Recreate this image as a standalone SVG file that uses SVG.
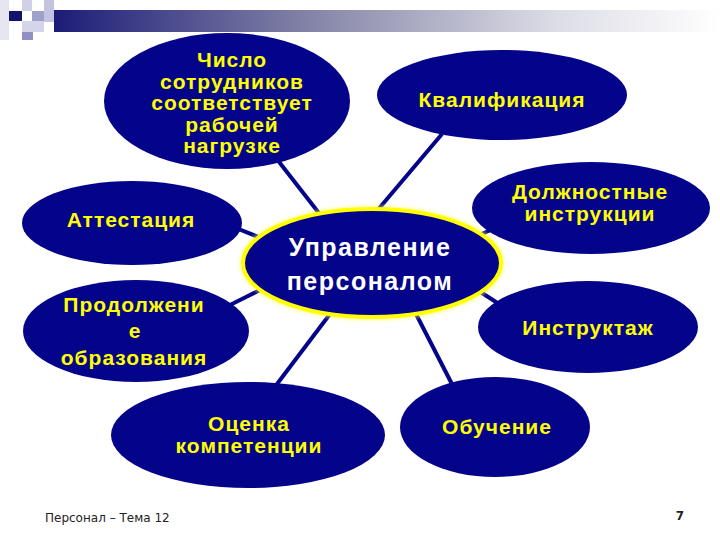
<svg xmlns="http://www.w3.org/2000/svg" width="720" height="540" viewBox="0 0 720 540">
  <defs>
    <linearGradient id="bar" x1="0" y1="0" x2="1" y2="0">
      <stop offset="0" stop-color="#1c1c78"/>
      <stop offset="0.4" stop-color="#8888aa"/>
      <stop offset="0.75" stop-color="#dcdce6"/>
      <stop offset="1" stop-color="#ffffff"/>
    </linearGradient>
    <filter id="glow" x="-20%" y="-20%" width="140%" height="140%">
      <feGaussianBlur stdDeviation="1.5"/>
    </filter>
  </defs>
  <style>
    .node { fill: #04048a; }
    .lbl { font-family: "Liberation Sans", Arial, sans-serif; font-weight: bold; font-size: 21px; fill: #ffff00; text-anchor: middle; letter-spacing: 1px; }
    .main { font-family: "Liberation Sans", Arial, sans-serif; font-weight: bold; font-size: 25px; fill: #ffffff; text-anchor: middle; letter-spacing: 1.5px; }
    .conn line { stroke: #04048a; stroke-width: 4; }
    .foot { font-family: "DejaVu Sans", Tahoma, sans-serif; font-size: 12px; fill: #222222; }
  </style>
  <rect width="720" height="540" fill="#ffffff"/>

  <!-- header decoration -->
  <g id="header">
    <rect x="0" y="0" width="9" height="40" fill="#e6e6f2"/>
    <rect x="22" y="0" width="10" height="11" fill="#d0d0e8"/>
    <rect x="44" y="0" width="10" height="22" fill="#c4c4e0"/>
    <rect x="9" y="11" width="13" height="10" fill="#14146e"/>
    <rect x="32" y="11" width="12" height="10" fill="#a0a0cc"/>
    <rect x="22" y="21" width="22" height="11" fill="#d4d4ea"/>
    <rect x="22" y="32" width="11" height="8" fill="#9090c4"/>
    <rect x="54" y="10" width="666" height="22" fill="url(#bar)"/>
  </g>

  <!-- connectors -->
  <g id="connectors" class="conn">
    <line x1="276" y1="158" x2="322" y2="217"/>
    <line x1="442" y1="134" x2="376" y2="212"/>
    <line x1="236" y1="228" x2="266" y2="240"/>
    <line x1="228" y1="306" x2="264" y2="288"/>
    <line x1="472" y1="238" x2="498" y2="227"/>
    <line x1="476" y1="289" x2="502" y2="306"/>
    <line x1="330" y1="314" x2="274" y2="388"/>
    <line x1="416" y1="314" x2="455" y2="390"/>
  </g>

  <g id="n-chislo">
    <ellipse class="node" cx="227" cy="101" rx="123" ry="68"/>
    <text class="lbl" x="232" y="67">Число</text>
    <text class="lbl" x="232" y="88.5">сотрудников</text>
    <text class="lbl" x="232" y="110">соответствует</text>
    <text class="lbl" x="232" y="131.5">рабочей</text>
    <text class="lbl" x="232" y="153">нагрузке</text>
  </g>

  <g id="n-kval">
    <ellipse class="node" cx="502" cy="95" rx="125" ry="45"/>
    <text class="lbl" x="502" y="107">Квалификация</text>
  </g>

  <g id="n-dolzh">
    <ellipse class="node" cx="591" cy="208" rx="119" ry="46"/>
    <text class="lbl" x="590" y="199">Должностные</text>
    <text class="lbl" x="590" y="221">инструкции</text>
  </g>

  <g id="n-attest">
    <ellipse class="node" cx="132" cy="223" rx="110" ry="42"/>
    <text class="lbl" x="131" y="227">Аттестация</text>
  </g>

  <g id="n-prodol">
    <ellipse class="node" cx="136" cy="331" rx="113" ry="51"/>
    <text class="lbl" x="134" y="312">Продолжени</text>
    <text class="lbl" x="135" y="338">е</text>
    <text class="lbl" x="134" y="365">образования</text>
  </g>

  <g id="n-instr">
    <ellipse class="node" cx="588" cy="327" rx="110" ry="46"/>
    <text class="lbl" x="588" y="335">Инструктаж</text>
  </g>

  <g id="n-ocenka">
    <ellipse class="node" cx="248" cy="435" rx="137" ry="53"/>
    <text class="lbl" x="249" y="431">Оценка</text>
    <text class="lbl" x="249" y="453">компетенции</text>
  </g>

  <g id="n-obuch">
    <ellipse class="node" cx="495" cy="427" rx="95" ry="50"/>
    <text class="lbl" x="497" y="434">Обучение</text>
  </g>

  <g id="n-center">
    <ellipse cx="372" cy="263" rx="130" ry="55" fill="none" stroke="#ffff66" stroke-width="6" opacity="0.45" filter="url(#glow)"/>
    <ellipse cx="372" cy="263" rx="129" ry="54" fill="#04048a" stroke="#ffff00" stroke-width="4"/>
    <text class="main" x="370" y="256">Управление</text>
    <text class="main" x="370" y="290">персоналом</text>
  </g>

  <g id="footer">
    <text class="foot" x="45" y="522">Персонал – Тема 12</text>
    <text x="680" y="520" font-family="DejaVu Sans, sans-serif" font-size="12" font-weight="bold" fill="#222222" text-anchor="middle">7</text>
  </g>
</svg>
